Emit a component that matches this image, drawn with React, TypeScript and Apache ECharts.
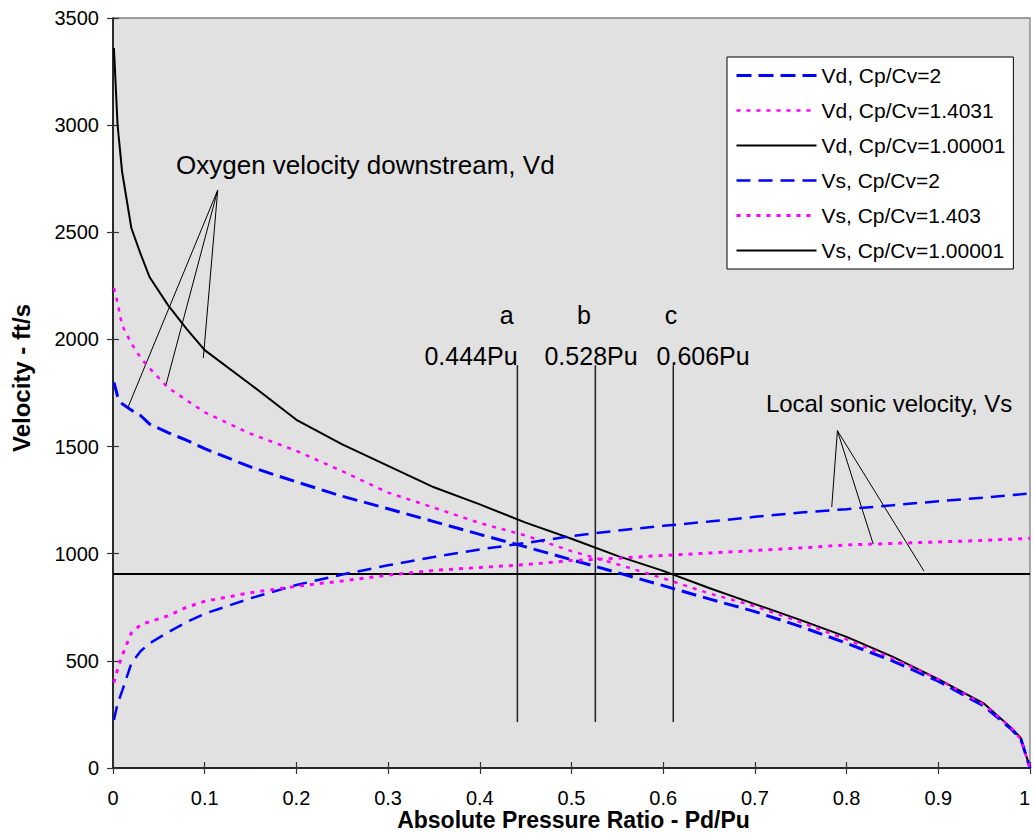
import React, { useEffect, useRef } from "react";
import * as echarts from "echarts";

// ---------- data ----------
const pressureRatio = [0.001, 0.005, 0.01, 0.02, 0.03, 0.04, 0.06, 0.08, 0.1, 0.15, 0.2, 0.25, 0.3, 0.35, 0.4, 0.45, 0.5, 0.55, 0.6, 0.65, 0.7, 0.75, 0.8, 0.85, 0.9, 0.95, 0.98, 0.99, 1.0];
const vdCp2 = [1800, 1735, 1700, 1670, 1645, 1605, 1565, 1530, 1490, 1405, 1335, 1268, 1210, 1150, 1090, 1032, 972, 912, 851, 789, 730, 660, 582, 500, 405, 288, 180, 135, 0];
const vdCp14031 = [2240, 2170, 2065, 1982, 1915, 1865, 1775, 1717, 1660, 1560, 1480, 1385, 1285, 1215, 1143, 1085, 1012, 951, 885, 815, 755, 680, 600, 512, 415, 295, 186, 133, 0];
const vdCp100001 = [3360, 3000, 2780, 2520, 2400, 2290, 2160, 2050, 1950, 1790, 1625, 1510, 1410, 1310, 1230, 1145, 1070, 990, 920, 840, 765, 690, 612, 520, 415, 300, 185, 140, 0];
const vsCp2 = [224, 300, 360, 488, 545, 582, 633, 680, 720, 792, 854, 903, 946, 985, 1020, 1050, 1082, 1108, 1130, 1150, 1172, 1192, 1208, 1226, 1245, 1262, 1273, 1277, 1282];
const vsCp1403 = [398, 460, 525, 630, 668, 683, 710, 750, 778, 818, 848, 873, 900, 922, 936, 949, 968, 979, 992, 1003, 1015, 1027, 1041, 1048, 1055, 1062, 1068, 1070, 1072];
const vsIsoRatio = [0, 1];
const vsCp100001 = [905, 905];

const seriesNames = [
  "Vd, Cp/Cv=2",
  "Vd, Cp/Cv=1.4031",
  "Vd, Cp/Cv=1.00001",
  "Vs, Cp/Cv=2",
  "Vs, Cp/Cv=1.403",
  "Vs, Cp/Cv=1.00001",
];

const xMin = 0, xMax = 1, xInterval = 0.1;
const yMin = 0, yMax = 3500, yInterval = 500;
const xTitle = "Absolute Pressure Ratio - Pd/Pu";
const yTitle = "Velocity - ft/s";

const criticalRatios = [0.441, 0.526, 0.611];
const criticalLineRange = [215, 1880];
const criticalLetters = ["a", "b", "c"];
const criticalLabels = ["0.444Pu", "0.528Pu", "0.606Pu"];
const letterAnchors = [[0.4293, 2114], [0.5137, 2114], [0.6085, 2114]];
const labelAnchors = [[0.3904, 1923], [0.5213, 1923], [0.6435, 1923]];

const vdNote = "Oxygen velocity downstream, Vd";
const vdNoteAnchor = [0.0687, 2814];
const vdPointerApex = [0.1142, 2697];
const vdPointerEnds = [[0.016, 1680], [0.0575, 1783], [0.0985, 1913]];
const vsNote = "Local sonic velocity, Vs";
const vsNoteAnchor = [0.712, 1703];
const vsPointerApex = [0.79, 1574];
const vsPointerEnds = [[0.7838, 1218], [0.829, 1045], [0.8844, 919]];

const FONT = "'Liberation Sans', Arial, Helvetica, sans-serif";
const BLUE = "#0000ff";
const MAGENTA = "#ff00ff";

// style table per legend series: colour, width, dash
const seriesStyles: any[] = [
  { color: BLUE, width: 3, type: [15, 7] },
  { color: MAGENTA, width: 2.5, type: [4, 6] },
  { color: "#000000", width: 2, type: "solid" },
  { color: BLUE, width: 2.5, type: [14, 8] },
  { color: MAGENTA, width: 3, type: [4, 6] },
  { color: "#000000", width: 2, type: "solid" },
];

function pairs(xs: number[], ys: number[]) {
  return xs.map((x, i) => [x, ys[i]]);
}

export default function App() {
  const ref = useRef<HTMLDivElement>(null);

  useEffect(() => {
    if (!ref.current) return;
    const chart = echarts.init(ref.current, undefined, { renderer: "svg" });

    const lineSeries = (idx: number, data: number[][], z = 3) => ({
      name: seriesNames[idx],
      type: "line",
      data,
      symbol: "none",
      silent: true,
      z,
      lineStyle: { ...seriesStyles[idx], cap: "butt" },
      itemStyle: { color: seriesStyles[idx].color },
    });

    const helper = (data: number[][], width: number, color = "#000") => ({
      type: "line",
      data,
      symbol: "none",
      silent: true,
      z: 2,
      lineStyle: { color, width, type: "solid" },
    });

    const series: any[] = [
      lineSeries(0, pairs(pressureRatio, vdCp2), 4),
      lineSeries(1, pairs(pressureRatio, vdCp14031), 4),
      lineSeries(2, pairs(pressureRatio, vdCp100001), 3),
      lineSeries(3, pairs(pressureRatio, vsCp2), 4),
      lineSeries(4, pairs(pressureRatio, vsCp1403), 4),
      lineSeries(5, pairs(vsIsoRatio, vsCp100001), 3),
    ];
    criticalRatios.forEach((r) => {
      series.push(helper([[r, criticalLineRange[0]], [r, criticalLineRange[1]]], 1.5, "#222"));
    });
    vdPointerEnds.forEach((e) => series.push(helper([vdPointerApex, e], 1)));
    vsPointerEnds.forEach((e) => series.push(helper([vsPointerApex, e], 1)));

    const tickColor = "#333";
    chart.setOption({
      animation: false,
      backgroundColor: "#ffffff",
      textStyle: { fontFamily: FONT },
      grid: {
        left: 113,
        right: 4,
        top: 18,
        bottom: 67,
        show: true,
        containLabel: false,
        outerBoundsMode: "none",
        backgroundColor: "#e1e1e1",
        borderColor: "#808080",
        borderWidth: 1.3,
      },
      legend: {
        data: seriesNames.map((name, i) => ({
          name,
          itemStyle: { opacity: 0 },
          lineStyle: { width: seriesStyles[i].width, type: seriesStyles[i].type, color: seriesStyles[i].color },
        })),
        orient: "vertical",
        left: 727,
        top: 57,
        padding: [8, 8, 8, 8],
        itemWidth: 80,
        itemHeight: 14,
        itemGap: 14,
        backgroundColor: "#ffffff",
        borderColor: "#000000",
        borderWidth: 1,
        borderRadius: 0,
        selectedMode: false,
        itemStyle: { opacity: 0 },
        textStyle: { fontSize: 21, color: "#000", fontFamily: FONT, lineHeight: 21 },
      },
      xAxis: [
        {
          type: "value",
          min: xMin,
          max: xMax,
          interval: xInterval,
          position: "bottom",
          name: xTitle,
          nameLocation: "middle",
          nameGap: 41,
          nameMoveOverlap: false,
          nameTextStyle: { fontSize: 23, lineHeight: 22, fontWeight: "bold", color: "#000", fontFamily: FONT, padding: [0, 0, 0, 4] },
          axisLine: { show: true, onZero: false, lineStyle: { color: "#000", width: 1.5 } },
          axisTick: { show: true, inside: false, length: 6, lineStyle: { color: tickColor, width: 1.2 } },
          axisLabel: {
            fontSize: 20,
            color: "#000",
            margin: 20,
            fontFamily: FONT,
            alignMaxLabel: "right",
            formatter: (v: number) => String(v),
          },
          splitLine: { show: false },
        },
        {
          type: "value",
          min: xMin,
          max: xMax,
          interval: xInterval,
          position: "bottom",
          axisLine: { show: false },
          axisTick: { show: true, inside: true, length: 6, lineStyle: { color: tickColor, width: 1.2 } },
          axisLabel: { show: false },
          splitLine: { show: false },
        },
      ],
      yAxis: [
        {
          type: "value",
          min: yMin,
          max: yMax,
          interval: yInterval,
          position: "left",
          axisLine: { show: true, onZero: false, lineStyle: { color: "#000", width: 1.5 } },
          axisTick: { show: true, inside: false, length: 6, lineStyle: { color: tickColor, width: 1.2 } },
          axisLabel: { fontSize: 20, color: "#000", margin: 14, fontFamily: FONT, formatter: (v: number) => String(v) },
          splitLine: { show: false },
        },
        {
          type: "value",
          min: yMin,
          max: yMax,
          interval: yInterval,
          position: "left",
          axisLine: { show: false },
          axisTick: { show: true, inside: true, length: 6, lineStyle: { color: tickColor, width: 1.2 } },
          axisLabel: { show: false },
          splitLine: { show: false },
        },
      ],
      series,
    });

    const px = (p: number[]) => chart.convertToPixel({ gridIndex: 0 } as any, p) as number[];
    const textEl = (text: string, p: number[], size: number, align: string) => {
      const [x, y] = px(p);
      return {
        type: "text",
        x,
        y,
        silent: true,
        z: 10,
        style: {
          text,
          fill: "#000",
          font: `${size}px ${FONT}`,
          align,
          verticalAlign: "middle",
        },
      };
    };
    const graphics: any[] = [];
    criticalLetters.forEach((t, i) => graphics.push(textEl(t, letterAnchors[i], 25, "center")));
    criticalLabels.forEach((t, i) => graphics.push(textEl(t, labelAnchors[i], 25, "center")));
    graphics.push(textEl(vdNote, vdNoteAnchor, 26, "left"));
    graphics.push(textEl(vsNote, vsNoteAnchor, 24, "left"));
    graphics.push({
      type: "text",
      x: 21,
      y: 378,
      rotation: Math.PI / 2,
      silent: true,
      style: {
        text: yTitle,
        fill: "#000",
        font: `bold 24px ${FONT}`,
        align: "center",
        verticalAlign: "middle",
      },
    });
    chart.setOption({ graphic: graphics });

    return () => chart.dispose();
  }, []);

  return (
    <div
      ref={ref}
      style={{ position: "absolute", left: 0, top: 0, width: 1034, height: 835, background: "#fff" }}
    />
  );
}
